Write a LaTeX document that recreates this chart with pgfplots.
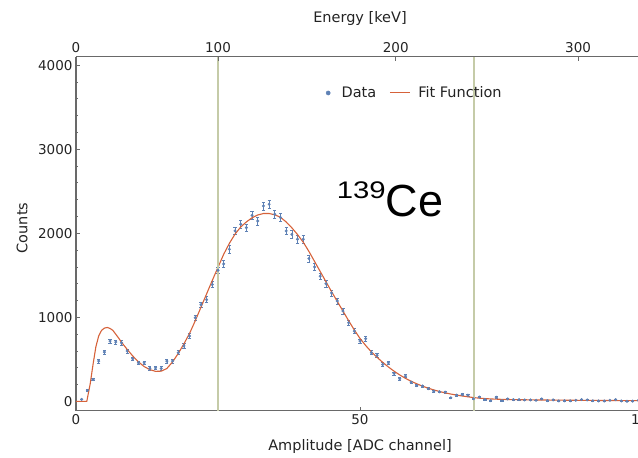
\documentclass[border=0pt]{standalone}
\usepackage{graphicx}
\usepackage{pgfplots}
\pgfplotsset{compat=1.18}
\usepackage{pgfplotstable}
\usepackage{fontspec}
\setmainfont{DejaVu Sans}
\newfontfamily\isofont{Liberation Sans}

\definecolor{axisgray}{RGB}{105,105,105}
\definecolor{labelgray}{RGB}{35,35,35}
\definecolor{datablue}{RGB}{94,129,181}
\definecolor{fitred}{RGB}{214,98,58}
\definecolor{roiline}{RGB}{197,203,168}

% measured spectrum: channel, counts
\pgfplotstableread{
ch c
1 25
2 130
3 262
4 480
5 587
6 718
7 706
8 698
9 600
10 508
11 460
12 460
13 393
14 400
15 393
16 480
17 480
18 580
19 660
20 778
21 996
22 1150
23 1210
24 1390
25 1560
26 1635
27 1810
28 2028
29 2107
30 2067
31 2214
32 2146
33 2325
34 2345
35 2226
36 2187
37 2028
38 1988
39 1929
40 1929
41 1700
42 1600
43 1490
44 1400
45 1290
46 1194
47 1075
48 936
49 837
50 718
51 746
52 580
53 548
54 440
55 460
56 333
57 270
58 300
59 230
60 190
61 183
62 151
63 123
64 115
65 111
66 44
67 75
68 83
69 75
70 32
71 52
72 24
73 10
74 50
75 10
76 30
77 22
78 22
79 18
80 18
81 14
82 30
83 10
84 18
85 6
86 8
87 8
88 14
89 22
90 18
91 8
92 6
93 6
94 14
95 22
96 6
97 2
98 4
99 12
}\spectrum

% fitted response
\pgfplotstableread{
ch c
0 0
1.9 0
2.5 210
3 440
3.5 650
4 780
4.5 845
5 872
5.5 880
6 868
6.5 845
7 800
7.5 755
8 705
9 620
10 540
11 470
12 415
13 378
14 358
15 360
16 392
17 470
18 570
19 685
20 810
21 960
22 1120
23 1280
24 1440
25 1595
26 1750
27 1880
28 1990
29 2075
30 2135
31 2185
32 2218
33 2235
34 2235
35 2220
36 2190
37 2135
38 2065
39 1985
40 1895
41 1785
42 1665
43 1545
44 1425
45 1305
46 1190
47 1075
48 960
49 850
50 750
51 665
52 590
53 525
54 465
55 410
56 360
57 315
58 275
59 240
60 210
61 182
62 158
63 137
64 118
65 102
66 88
67 76
68 65
69 55
70 46
71 39
72 34
73 30
74 27
75 25
76 23
77 22
78 21
79 20
80 19
81 18
82 17
83 17
84 16
85 15
86 15
87 14
88 14
89 13
90 13
91 12
92 12
93 11
94 11
95 11
96 10
97 10
98 9
99 9
100 9
}\fitcurve

\pgfplotsset{
  common/.style={
    scale only axis, width=568pt, height=354pt,
    xmin=0, xmax=100, ymin=-110, ymax=4100,
    tick align=inside,
    major tick length=4pt, minor tick length=2.5pt,
    tick style={axisgray, line width=0.8pt},
    axis line style={axisgray, line width=1.2pt},
    /pgf/number format/assume math mode=true,
    /pgf/number format/1000 sep={},
    ticklabel style={text=labelgray, font=\fontsize{13.5}{16}\selectfont},
    label style={text=labelgray, font=\fontsize{14.5}{17}\selectfont},
  }
}

\begin{document}
\begin{tikzpicture}[font=\fontsize{13.5}{16}\selectfont]
\begin{axis}[
  common, name=main,
  axis x line*=bottom, axis y line*=left,
  xtick={0,50,100},
  ytick={0,1000,2000,3000,4000}, minor y tick num=4,
  xlabel={Amplitude [ADC channel]}, ylabel={Counts},
  xlabel style={at={(axis description cs:0.5,-0.1025)}, anchor=center},
  ylabel style={at={(axis description cs:-0.0951,0.516)}, anchor=center},
  legend style={at={(0.4366,0.8975)}, anchor=west, draw=none, fill=none,
    inner sep=0pt, legend columns=-1,
    font=\fontsize{14.5}{17}\selectfont, text=labelgray,
    /tikz/every even column/.append style={column sep=11pt}},
]
\addplot[only marks, mark=*, mark size=1.3pt, color=datablue,
  legend image code/.code={
    \fill[datablue] (4pt,0) circle (2.1pt);
    \path[draw=none] (0pt,0) -- (15.5pt,0);},
  error bars/.cd, y dir=both, y explicit,
  error mark options={rotate=90, mark size=1.6pt, line width=0.6pt, datablue},
  error bar style={line width=0.6pt, datablue}]
  table[x=ch, y=c, y error expr={sqrt(\thisrow{c})}] {\spectrum};
\addlegendentry{Data}
\addplot[fitred, line width=1.1pt, line join=round,
  legend image code/.code={
    \draw[fitred, line width=1pt] (0pt,0) -- (20pt,0);
    \path[draw=none] (0pt,0) -- (26.5pt,0);}]
  table[x=ch, y=c] {\fitcurve};
\addlegendentry{Fit Function}
\addplot[roiline, line width=2pt, forget plot] coordinates {(25,-110) (25,4100)};
\addplot[roiline, line width=2pt, forget plot] coordinates {(70,-110) (70,4100)};
\node[anchor=base west, inner sep=0pt, text=black] at (axis cs:45.9,2205)
  {\isofont\raisebox{17.5pt}{\scalebox{1.22}[1]{\fontsize{24}{24}\selectfont 139}}\fontsize{45}{45}\selectfont Ce};
\end{axis}
\begin{axis}[
  common,
  axis x line*=top, axis y line=none,
  xtick={0,25,56.3,88.4}, xticklabels={0,100,200,300},
  xlabel={Energy [keV]},
  xlabel style={at={(axis description cs:0.5,1.1065)}, anchor=center},
]
\end{axis}
\pgfresetboundingbox
\path ([shift={(-76pt,-47.3pt)}]main.south west) rectangle ++(638pt,458pt);
\end{tikzpicture}
\end{document}
